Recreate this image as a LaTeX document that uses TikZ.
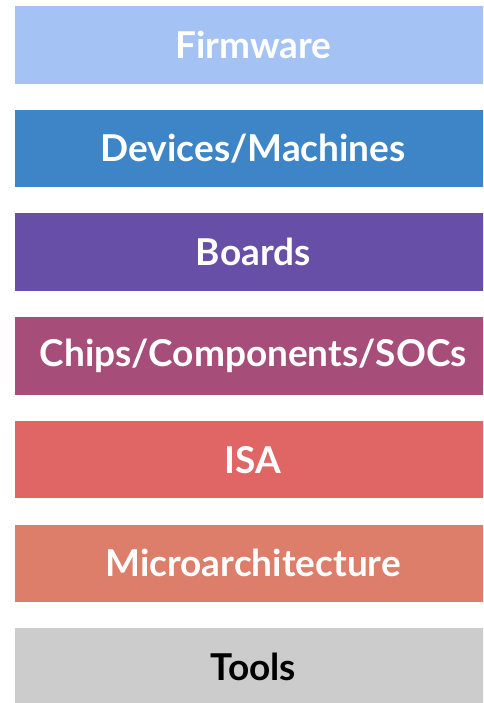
\documentclass[tikz,border=0pt]{standalone}
\usepackage{fontspec}
\setmainfont{Lato}
\definecolor{cFirm}{HTML}{A4C2F4}
\definecolor{cDev}{HTML}{3D85C6}
\definecolor{cBoard}{HTML}{674EA7}
\definecolor{cChip}{HTML}{A64D79}
\definecolor{cISA}{HTML}{E06666}
\definecolor{cMicro}{HTML}{DD7E6B}
\definecolor{cTools}{HTML}{CCCCCC}
\tikzset{
  layer/.style={rectangle, draw=none, minimum width=476pt, minimum height=77.5pt,
    inner sep=0pt, font=\fontsize{37}{42}\selectfont\bfseries, text=white, anchor=north west},
}
\begin{document}
\begin{tikzpicture}[x=1pt,y=-1pt]
\useasboundingbox (0,0) rectangle (483,703);
\begin{scope}
\clip (0,0) rectangle (483,703);
\node[layer, fill=cFirm]  (firm)  at (15,6)      {Firmware};
\node[layer, fill=cDev]   (dev)   at (15,109.7)  {Devices/Machines};
\node[layer, fill=cBoard] (board) at (15,213.3)  {Boards};
\node[layer, fill=cChip]  (chip)  at (15,317)    {Chips/Components/SOCs};
\node[layer, fill=cISA]   (isa)   at (15,420.7)  {ISA};
\node[layer, fill=cMicro] (micro) at (15,524.3)  {Microarchitecture};
\node[layer, fill=cTools, text=black] (tools) at (15,628) {Tools};
\end{scope}
\end{tikzpicture}
\end{document}
